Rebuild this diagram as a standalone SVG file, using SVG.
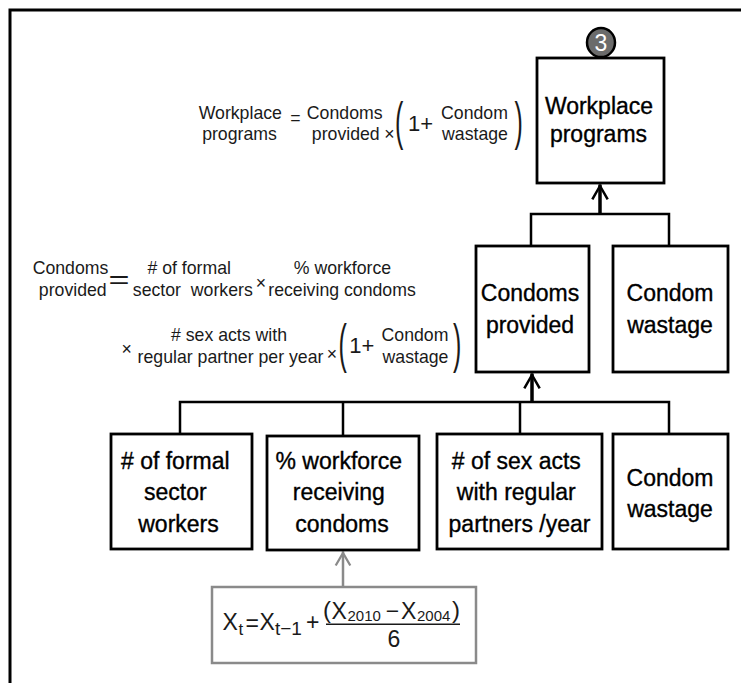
<svg xmlns="http://www.w3.org/2000/svg" width="741" height="683" viewBox="0 0 741 683">
  <style>
    .box { fill: #fff; stroke: #000; stroke-width: 2.8; }
    .lbl { font-family: "Liberation Sans", Arial, sans-serif; font-size: 23px; text-anchor: middle; fill: #000; stroke: #000; stroke-width: 0.35; }
    .eq { font-family: "Liberation Sans", Arial, sans-serif; font-size: 17.7px; text-anchor: middle; fill: #1a1a1a; }
    .eqs { font-family: "Liberation Sans", Arial, sans-serif; fill: #1a1a1a; }
    .fx { font-family: "Liberation Sans", Arial, sans-serif; fill: #1a1a1a; font-size: 23px; }
    .conn { fill: none; stroke: #000; stroke-width: 2.5; stroke-linejoin: miter; }
    .trunk { fill: none; stroke: #000; stroke-width: 3.5; }
    .grey { fill: none; stroke: #8a8a8a; stroke-width: 2.5; }
  </style>
  <defs>
    <marker id="arr" markerUnits="userSpaceOnUse" viewBox="-16 -10 20 20" markerWidth="20" markerHeight="20" refX="1.5" refY="0" orient="auto">
      <path d="M-13.4,-7.7 L0,0 L-13.4,7.7" fill="none" stroke="#000" stroke-width="2.5"/>
    </marker>
    <marker id="arrg" markerUnits="userSpaceOnUse" viewBox="-16 -10 20 20" markerWidth="20" markerHeight="20" refX="1.5" refY="0" orient="auto">
      <path d="M-12.5,-7.3 L0,0 L-12.5,7.3" fill="none" stroke="#8a8a8a" stroke-width="2.3"/>
    </marker>
  </defs>

  <rect x="0" y="0" width="741" height="683" fill="#fff"/>
  <rect x="10" y="10" width="780" height="720" fill="none" stroke="#000" stroke-width="3"/>

  <g id="connectors">
    <path class="trunk" d="M600,214 V184.5" marker-end="url(#arr)"/>
    <path class="conn" d="M531,246 V214 H669 V246"/>
    <path class="trunk" d="M532,402 V373.5" marker-end="url(#arr)"/>
    <path class="conn" d="M180,434 V402 H669 V434"/>
    <path class="conn" d="M343,402 V436"/>
    <path class="conn" d="M520,402 V434"/>
    <path class="grey" d="M343,587 V551.5" marker-end="url(#arrg)"/>
  </g>

  <g id="n-workplace-programs">
    <rect class="box" x="537" y="58" width="127" height="125"/>
    <text class="lbl" x="599" y="114">Workplace</text>
    <text class="lbl" x="598.5" y="141.5">programs</text>
    <ellipse cx="601" cy="42.5" rx="14" ry="14.5" fill="#6b6b6b" stroke="#000" stroke-width="2.5"/>
    <text x="601" y="50.5" font-family="Liberation Sans, Arial, sans-serif" font-size="23" text-anchor="middle" fill="#fff">3</text>
  </g>

  <g id="n-condoms-provided">
    <rect class="box" x="476" y="246" width="113" height="126"/>
    <text class="lbl" x="530" y="300.5">Condoms</text>
    <text class="lbl" x="530" y="332.5">provided</text>
  </g>

  <g id="n-condom-wastage-top">
    <rect class="box" x="613" y="246" width="115" height="126"/>
    <text class="lbl" x="670" y="300.5">Condom</text>
    <text class="lbl" x="670" y="332.5">wastage</text>
  </g>

  <g id="n-formal-workers">
    <rect class="box" x="111" y="434" width="141" height="115"/>
    <text class="lbl" x="178.5" y="469">
      <tspan x="178.5" y="469"># of formal</tspan>
      <tspan x="178.5" y="500">sector</tspan>
      <tspan x="178.5" y="531.5">workers</tspan>
    </text>
  </g>

  <g id="n-workforce-receiving">
    <rect class="box" x="267" y="436" width="152" height="114"/>
    <text class="lbl" x="342" y="469">
      <tspan x="342" y="469">% workforce</tspan>
      <tspan x="342" y="500">receiving</tspan>
      <tspan x="342" y="531.5">condoms</tspan>
    </text>
  </g>

  <g id="n-sex-acts">
    <rect class="box" x="437" y="434" width="165" height="115"/>
    <text class="lbl" x="519.5" y="469">
      <tspan x="519.5" y="469"># of sex acts</tspan>
      <tspan x="519.5" y="500">with regular</tspan>
      <tspan x="519.5" y="531.5">partners /year</tspan>
    </text>
  </g>

  <g id="n-condom-wastage-bottom">
    <rect class="box" x="613" y="434" width="115" height="115"/>
    <text class="lbl" x="670" y="486">Condom</text>
    <text class="lbl" x="670" y="516.5">wastage</text>
  </g>

  <g id="eq-workplace">
    <text class="eq" x="240.3" y="119">Workplace</text>
    <text class="eq" x="239.5" y="140.3">programs</text>
    <text class="eq" x="295.3" y="124">=</text>
    <text class="eq" x="344.7" y="119">Condoms</text>
    <text class="eq" x="345.8" y="140">provided</text>
    <text class="eq" x="389.3" y="139.5" font-size="17">×</text>
    <text class="eqs" transform="translate(395,139) scale(1.25,2.57)" font-size="20">(</text>
    <text class="eqs" x="408" y="130.7" font-size="22">1+</text>
    <text class="eq" x="474.5" y="119">Condom</text>
    <text class="eq" x="475" y="140">wastage</text>
    <text class="eqs" transform="translate(514.5,139) scale(1.25,2.57)" font-size="20">)</text>
  </g>

  <g id="eq-condoms-provided">
    <text class="eq" x="70.5" y="274">Condoms</text>
    <text class="eq" x="72.8" y="295.5">provided</text>
    <text class="eqs" x="108.5" y="288" font-size="26" textLength="21" lengthAdjust="spacingAndGlyphs">=</text>
    <text class="eq" x="189.2" y="273.5"># of formal</text>
    <text class="eq" x="192.8" y="295.5" xml:space="preserve">sector  workers</text>
    <text class="eq" x="261" y="289" font-size="24">×</text>
    <text class="eq" x="342.5" y="273.5">% workforce</text>
    <text class="eq" x="342" y="295.5">receiving condoms</text>
    <text class="eq" x="229" y="341"># sex acts with</text>
    <text class="eq" x="126.7" y="355" font-size="22">×</text>
    <text class="eq" x="230.5" y="363">regular partner per year</text>
    <text class="eq" x="332" y="359.5" font-size="22">×</text>
    <text class="eqs" transform="translate(338.5,361.7) scale(1.25,2.66)" font-size="20">(</text>
    <text class="eqs" x="349.3" y="353" font-size="22">1+</text>
    <text class="eq" x="415" y="340.5">Condom</text>
    <text class="eq" x="415.5" y="363">wastage</text>
    <text class="eqs" transform="translate(453,361.7) scale(1.25,2.66)" font-size="20">)</text>
  </g>

  <g id="n-growth-formula">
    <rect x="212" y="587" width="264" height="76" fill="#fff" stroke="#8a8a8a" stroke-width="2.5"/>
    <line x1="326" y1="624.3" x2="460" y2="624.3" stroke="#1a1a1a" stroke-width="1.4"/>
    <text class="fx">
      <tspan x="222.5" y="630">X</tspan>
      <tspan x="238.5" y="635" style="font-size:17px">t</tspan>
      <tspan x="245.5" y="630.5">=</tspan>
      <tspan x="259.5" y="630">X</tspan>
      <tspan x="275" y="635" style="font-size:19px">t−1</tspan>
      <tspan x="306" y="630">+</tspan>
      <tspan x="323" y="617.5" style="font-size:24px">(</tspan>
      <tspan x="331.5" y="619">X</tspan>
      <tspan x="347.5" y="621" style="font-size:15px">2010</tspan>
      <tspan x="385.7" y="619">−</tspan>
      <tspan x="401" y="619">X</tspan>
      <tspan x="417" y="621" style="font-size:15px">2004</tspan>
      <tspan x="452" y="617.5" style="font-size:24px">)</tspan>
      <tspan x="387.5" y="647">6</tspan>
    </text>
  </g>
</svg>
